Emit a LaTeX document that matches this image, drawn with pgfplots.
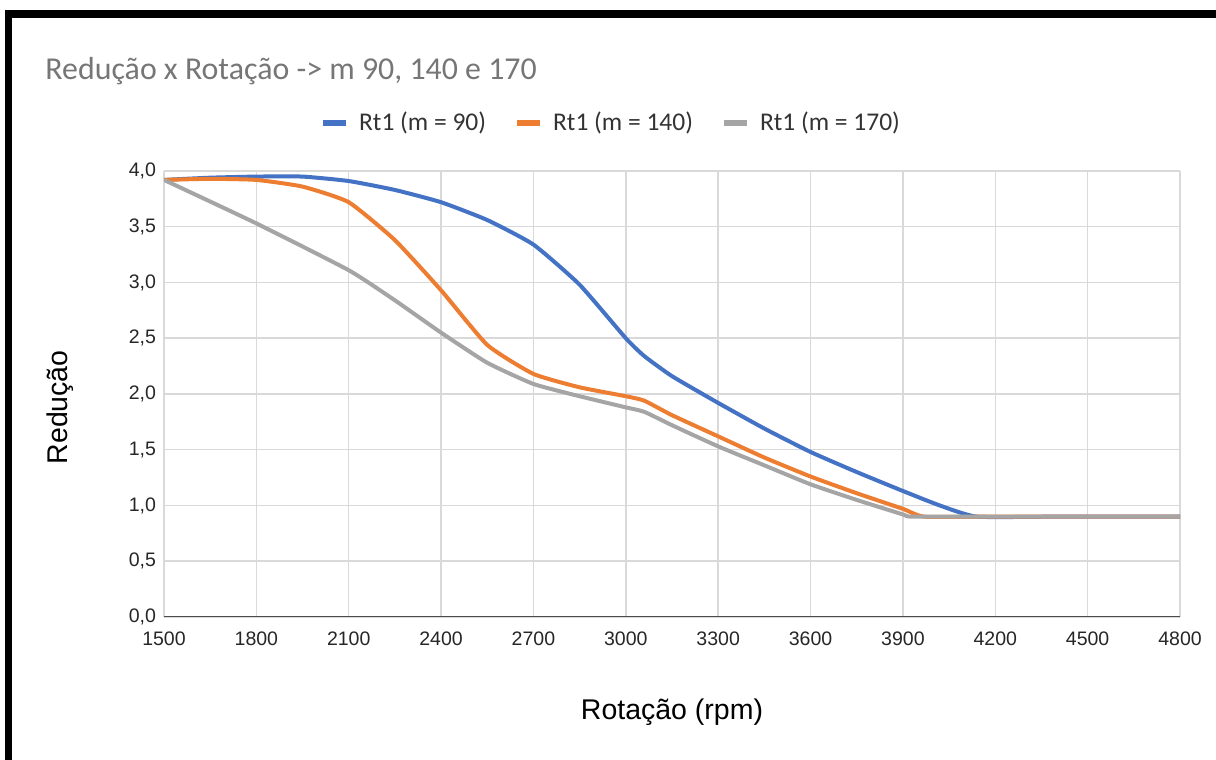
\documentclass[border=0pt]{standalone}
\usepackage{pgfplots}
\pgfplotsset{compat=1.18}
\usepackage{fontspec}
\setmainfont{Carlito}
\newfontfamily\arialf{Liberation Sans}

\definecolor{sblue}{RGB}{68,114,196}
\definecolor{sorange}{RGB}{237,125,49}
\definecolor{sgray}{RGB}{165,165,165}
\definecolor{gridc}{RGB}{217,217,217}
\definecolor{titlec}{RGB}{118,118,118}

\begin{document}
\begin{tikzpicture}
% page frame (1216x760 px at 2 px/bp)
\path[use as bounding box] (-82bp,-71.5bp) rectangle (526bp,308.5bp);
\fill[black] (-79.5bp,299.5bp) rectangle (526bp,303.5bp);
\fill[black] (-79.5bp,-71.5bp) rectangle (-76bp,303.5bp);

\begin{axis}[
  scale only axis,
  width=508bp, height=223bp,
  xmin=1500, xmax=4800, ymin=0, ymax=4,
  xtick={1500,1800,...,4800},
  ytick={0,0.5,...,4},
  axis line style={draw=none},
  major tick length=0pt,
  grid=major,
  grid style={draw=gridc, line width=0.75bp},
  ticklabel style={font=\arialf\fontsize{9.8}{11}\selectfont, text=black!85},
  xticklabel style={/pgf/number format/1000 sep={}, yshift=-4bp},
  yticklabel style={/pgf/number format/use comma, /pgf/number format/fixed,
    /pgf/number format/fixed zerofill, /pgf/number format/precision=1, xshift=-0.5bp},
  /pgf/number format/assume math mode=true,
  xlabel={Rotação (rpm)},
  ylabel={Redução},
  label style={font=\arialf\fontsize{14.3}{16}\selectfont, text=black},
  xlabel style={at={(rel axis cs:0.5,0)}, anchor=center, yshift=-47.5bp},
  ylabel style={at={(rel axis cs:0,0.47)}, anchor=center, yshift=52bp},
  legend columns=3,
  legend style={draw=none, fill=none, at={(rel axis cs:0.441,1.1076)}, anchor=center,
    font=\fontsize{12.8}{14}\selectfont, text=black!80,
    /tikz/every even column/.append style={column sep=12bp},
    /tikz/every odd column/.append style={column sep=3bp}},
  legend image code/.code={\draw[#1, line width=3bp] (0bp,0bp) -- (11.5bp,0bp);},
  every axis plot/.append style={line width=2bp, smooth, tension=0.3},
]
\addplot[sblue] coordinates {
(1500,3.92) (1650,3.94) (1800,3.95) (1950,3.95) (2100,3.91) (2250,3.83)
(2400,3.72) (2550,3.56) (2700,3.34) (2850,2.98) (3000,2.50) (3060,2.34)
(3150,2.16) (3300,1.92) (3450,1.69) (3600,1.48) (3750,1.30) (3900,1.13)
(4020,1.00) (4140,0.90) (4400,0.90) (4800,0.90)};
\addlegendentry{Rt1 (m = 90)}
\addplot[sorange] coordinates {
(1500,3.92) (1650,3.93) (1800,3.92) (1950,3.86) (2100,3.72) (2250,3.38)
(2400,2.93) (2550,2.44) (2700,2.18) (2850,2.06) (3000,1.98) (3060,1.94)
(3150,1.81) (3300,1.62) (3450,1.43) (3600,1.26) (3750,1.11) (3900,0.97)
(3970,0.90) (4200,0.90) (4800,0.90)};
\addlegendentry{Rt1 (m = 140)}
\addplot[sgray] coordinates {
(1500,3.92) (1800,3.53) (2100,3.11) (2250,2.84) (2400,2.55) (2550,2.28)
(2700,2.09) (2850,1.98) (3000,1.88) (3060,1.84) (3150,1.72) (3300,1.53)
(3450,1.36) (3600,1.19) (3750,1.05) (3900,0.92) (3930,0.90) (4200,0.90)
(4800,0.90)};
\addlegendentry{Rt1 (m = 170)}
\draw[black!70, line width=1.25bp] (rel axis cs:0,0) -- (rel axis cs:1,0);
\end{axis}
\node[anchor=base west, font=\fontsize{16}{18}\selectfont, text=titlec, inner sep=0pt]
  at (-59.5bp,268.5bp) {Redução x Rotação -> m 90, 140 e 170};
\end{tikzpicture}
\end{document}
